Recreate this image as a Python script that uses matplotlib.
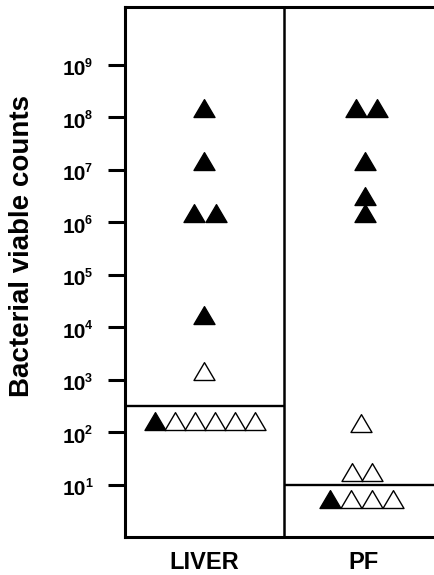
import numpy as np
import matplotlib
matplotlib.use("Agg")
import matplotlib.pyplot as plt
from matplotlib.path import Path
from matplotlib.transforms import ScaledTranslation

plt.rcParams['font.family'] = ['Liberation Sans', 'DejaVu Sans']

#Groups
groups = ["LIVER", "PF"]

#LIVER counts (base of the triangle sits on the value), slot = sideways offset in marker widths
liver_filled_vals = [1e8, 1e7, 1e6, 1e6, 1.15e4, 1.1e2]
liver_filled_slot = [0, 0, -0.5, 0.55, 0, -2.36]
liver_open_vals = [1e3, 1.1e2, 1.1e2, 1.1e2, 1.1e2, 1.1e2]
liver_open_slot = [0, -1.4, -0.45, 0.5, 1.45, 2.4]

#PF counts
pf_filled_vals = [1e8, 1e8, 1e7, 2.15e6, 1e6, 3.5]
pf_filled_slot = [-0.36, 0.64, 0.07, 0.07, 0.07, -1.6]
pf_open_vals = [1e2, 1.15e1, 1.15e1, 3.5, 3.5, 3.5]
pf_open_slot = [-0.1, -0.55, 0.4, -0.6, 0.4, 1.4]

#Detection limits
limits = [3.1e2, 1e1]

#Y ticks: 10^1 ... 10^9
exponents = list(range(1, 10))
ytick_vals = [10.0**k for k in exponents]

#Triangle with its base on the data point
tri = Path([(-1, 0), (1, 0), (0, 1.7), (-1, 0)],
           [Path.MOVETO, Path.LINETO, Path.LINETO, Path.CLOSEPOLY])

fig = plt.figure(figsize=(4.35, 5.75), dpi=100)
ax = fig.add_axes([125/435, 38/575, 318/435, 530/575])

slot_w = 21/159  # one marker width in data units
sets = [
    (0.5, liver_filled_vals, liver_filled_slot, "black"),
    (0.5, liver_open_vals, liver_open_slot, "white"),
    (1.5, pf_filled_vals, pf_filled_slot, "black"),
    (1.5, pf_open_vals, pf_open_slot, "white"),
]
for center, vals, slots, face in sets:
    x = center + np.array(slots)*slot_w
    ax.plot(x, vals, linestyle="none", marker=tri, markersize=25.7,
            markerfacecolor=face, markeredgecolor="black", markeredgewidth=1.0,
            clip_on=False, zorder=3)

#Detection limit lines and group divider
ax.hlines(limits[0], 0, 1, color="black", lw=1.7, zorder=2)
ax.hlines(limits[1], 1, 2, color="black", lw=1.7, zorder=2)
ax.axvline(1, color="black", lw=1.8, zorder=2)

ax.set_yscale("log")
ax.set_ylim(1, 10**10.1)
ax.set_xlim(0, 2)
ax.set_yticks(ytick_vals)
ax.set_yticklabels(["10"]*len(ytick_vals), fontsize=15, fontweight="bold")
ax.yaxis.set_minor_locator(matplotlib.ticker.NullLocator())
ax.tick_params(axis="y", direction="out", length=12, width=2.2, pad=16)
shift = ScaledTranslation(0, -3/100, fig.dpi_scale_trans)
for lab in ax.get_yticklabels():
    lab.set_transform(lab.get_transform() + shift)
#exponents as small raised text
for k, v in zip(exponents, ytick_vals):
    ax.annotate(str(k), xy=(0, v), xycoords=("axes fraction", "data"),
                xytext=(-40*0.72, 5), textcoords="offset points",
                ha="left", va="top", fontsize=9, fontweight="bold")

ax.set_xticks([0.5, 1.5])
ax.set_xticklabels(groups, fontsize=17, fontweight="bold")
ax.tick_params(axis="x", length=0, pad=10)

for side in ["left", "top", "bottom"]:
    ax.spines[side].set_linewidth(2.2)
ax.spines["right"].set_visible(False)

fig.text(22/435, 1 - 246/575, "Bacterial viable counts", rotation=90,
         fontsize=20, fontweight="bold", ha="center", va="center")

plt.savefig("out.png", dpi=100)
